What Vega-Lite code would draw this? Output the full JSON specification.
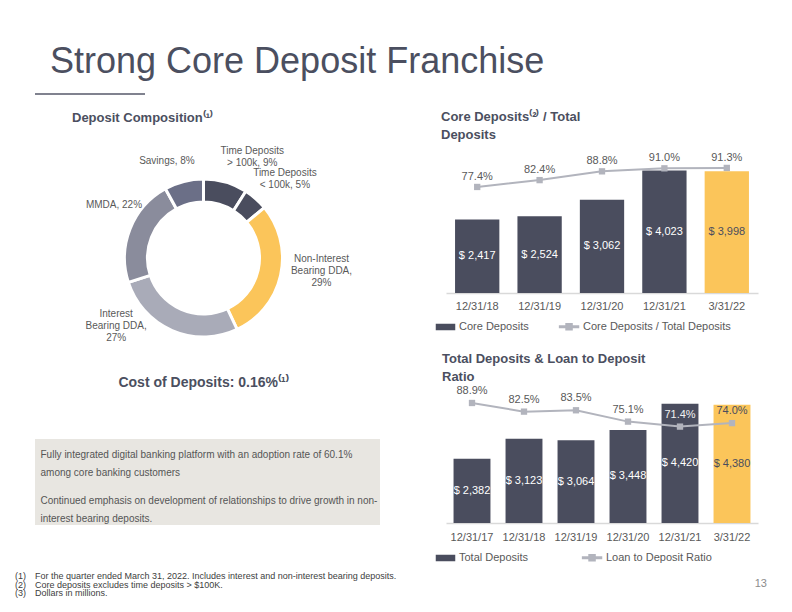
{
  "$schema": "https://vega.github.io/schema/vega-lite/v6.json",
  "background": "white",
  "padding": {"left": 15, "top": 44, "right": 0, "bottom": 0},
  "title": {"text": "Strong Core Deposit Franchise", "anchor": "start", "frame": "group", "dx": 15, "fontSize": 36, "fontWeight": "normal", "color": "#4b4f60", "offset": 12},
  "spacing": 15,
  "resolve": {"scale": {"color": "independent"}, "legend": {"color": "independent"}},
  "vconcat": [
    {
      "width": 110, "height": 2,
      "data": {"values": [{}]},
      "mark": {"type": "rect", "color": "#80828f"},
      "encoding": {}
    },
    {
      "spacing": 42,
      "resolve": {"scale": {"color": "independent"}, "legend": {"color": "independent"}},
      "hconcat": [
        {
          "spacing": 16,
          "resolve": {"scale": {"color": "independent"}, "legend": {"color": "independent"}},
          "title": {"text": ["(1)\u2003For the quarter ended March 31, 2022.  Includes interest and non-interest bearing deposits.", "(2)\u2003Core deposits excludes time deposits > $100K.", "(3)\u2003Dollars in millions."], "orient": "bottom", "anchor": "start", "frame": "bounds", "dx": -20, "fontSize": 9, "fontWeight": "normal", "color": "#404040", "lineHeight": 8.7, "offset": 47},
          "vconcat": [
            {
              "width": 337, "height": 204,
              "title": {"text": "Deposit Composition\u207d\u00b9\u207e", "anchor": "start", "dx": 37, "fontSize": 13, "fontWeight": "bold", "color": "#4b4f60", "offset": 20.5},
              "data": {"values": [
                {"k": 1, "name": "Time Deposits > 100k", "label": "Time Deposits\n> 100k, 9%", "pct": 9},
                {"k": 2, "name": "Time Deposits < 100k", "label": "Time Deposits\n< 100k, 5%", "pct": 5},
                {"k": 3, "name": "Non-Interest Bearing DDA", "label": "Non-Interest\nBearing DDA,\n29%", "pct": 29},
                {"k": 4, "name": "Interest Bearing DDA", "label": "Interest\nBearing DDA,\n27%", "pct": 27},
                {"k": 5, "name": "MMDA", "label": "MMDA, 22%", "pct": 22},
                {"k": 6, "name": "Savings", "label": "Savings, 8%", "pct": 8}
              ]},
              "layer": [
                {
                  "mark": {"type": "arc", "innerRadius": 56, "outerRadius": 79, "stroke": "white", "strokeWidth": 3},
                  "encoding": {
                    "theta": {"field": "pct", "type": "quantitative", "stack": true},
                    "order": {"field": "k", "type": "quantitative"},
                    "color": {"field": "name", "type": "nominal", "legend": null,
                      "scale": {"domain": ["Time Deposits > 100k", "Time Deposits < 100k", "Non-Interest Bearing DDA", "Interest Bearing DDA", "MMDA", "Savings"],
                                "range": ["#4a4d5e", "#4a4d5e", "#fbc55a", "#a9abb8", "#8a8c9c", "#6b6f87"]}}
                  }
                },
                {
                  "transform": [{"filter": "datum.k <= 3"}],
                  "mark": {"type": "text", "radius": 118, "fontSize": 10, "fill": "#595959", "lineHeight": 12, "lineBreak": "\n"},
                  "encoding": {
                    "theta": {"field": "pct", "type": "quantitative", "stack": true, "scale": {"domain": [0, 100], "range": [0.2094, 5.009]}},
                    "order": {"field": "k", "type": "quantitative"},
                    "text": {"field": "label", "type": "nominal"}
                  }
                },
                {
                  "transform": [{"filter": "datum.k >= 4"}],
                  "mark": {"type": "text", "radius": 104, "fontSize": 10, "fill": "#595959", "lineHeight": 12, "lineBreak": "\n"},
                  "encoding": {
                    "theta": {"field": "pct", "type": "quantitative", "stack": true, "scale": {"domain": [0, 100], "range": [6.1046, 1.586]}},
                    "order": {"field": "k", "type": "quantitative", "sort": "descending"},
                    "text": {"field": "label", "type": "nominal"}
                  }
                }
              ],
              "resolve": {"scale": {"theta": "independent"}}
            },
            {
              "width": 345, "height": 86,
              "view": {"fill": "#e8e6e1", "stroke": null},
              "title": {"text": "Cost of Deposits: 0.16%\u207d\u00b9\u207e", "anchor": "middle", "dx": -4, "fontSize": 14, "fontWeight": "bold", "color": "#4b4f60", "offset": 49},
              "data": {"values": [
                {"p": 1, "text": "Fully integrated digital banking platform with an adoption rate of 60.1%\namong core banking customers"},
                {"p": 2, "text": "Continued emphasis on development of relationships to drive growth in non-\ninterest bearing deposits."}
              ]},
              "mark": {"type": "text", "align": "left", "baseline": "middle", "dx": -167, "dy": -4, "fontSize": 10, "fill": "#555555", "lineHeight": 18, "lineBreak": "\n"},
              "encoding": {
                "y": {"field": "p", "type": "ordinal", "axis": null, "scale": {"padding": 0.445}},
                "text": {"field": "text", "type": "nominal"}
              }
            }
          ]
        },
        {
          "spacing": 19,
          "resolve": {"scale": {"color": "independent"}, "legend": {"color": "independent"}},
          "title": {"text": "13", "orient": "bottom", "anchor": "end", "frame": "bounds", "dx": 9, "fontSize": 11, "fontWeight": "normal", "color": "#8c8c8c", "offset": 14},
          "vconcat": [
            {
              "width": 312, "height": 137,
              "title": {"text": ["Core Deposits\u207d\u00b2\u207e / Total", "Deposits"], "anchor": "start", "dx": -5, "fontSize": 13, "fontWeight": "bold", "color": "#4b4f60", "lineHeight": 18, "offset": 10},
              "data": {"values": [
                {"date": "12/31/18", "core": 2417, "ratio": 0.774},
                {"date": "12/31/19", "core": 2524, "ratio": 0.824},
                {"date": "12/31/20", "core": 3062, "ratio": 0.888},
                {"date": "12/31/21", "core": 4023, "ratio": 0.910},
                {"date": "3/31/22", "core": 3998, "ratio": 0.913}
              ]},
              "encoding": {
                "x": {"field": "date", "type": "ordinal", "sort": null,
                  "scale": {"paddingInner": 0.29, "paddingOuter": 0.145},
                  "axis": {"title": null, "labelAngle": 0, "labelFontSize": 11, "labelColor": "#595959", "ticks": false, "domainColor": "#d9d9d9", "domainWidth": 1.5, "labelPadding": 7, "grid": false}}
              },
              "layer": [
                {
                  "mark": {"type": "bar"},
                  "encoding": {
                    "y": {"field": "core", "type": "quantitative", "scale": {"domain": [0, 4500]}, "axis": null},
                    "color": {
                      "condition": {"test": "datum.date === '3/31/22'", "value": "#fbc55a"},
                      "datum": "Core Deposits",
                      "scale": {"domain": ["Core Deposits", "Core Deposits / Total Deposits"], "range": ["#4a4d5e", "#b2b4bd"]},
                      "legend": {"orient": "bottom", "direction": "horizontal", "title": null, "labelFontSize": 11, "labelColor": "#595959", "symbolSize": 36, "labelOffset": 2, "columnPadding": 27, "offset": 10,
                        "encode": {"symbols": {"update": {
                          "shape": {"signal": "datum.value === 'Core Deposits' ? 'M-5,-0.85H1V0.85H-5Z' : 'M-5.3,-0.22H1V0.22H-5.3Z M-3.15,-1H-1.15V1H-3.15Z'"},
                          "fill": {"signal": "datum.value === 'Core Deposits' ? '#4a4d5e' : '#b2b4bd'"},
                          "stroke": {"value": "transparent"},
                          "opacity": {"value": 1}}}}}
                    }
                  }
                },
                {
                  "mark": {"type": "text", "fontSize": 11},
                  "encoding": {
                    "y": {"field": "core", "type": "quantitative", "scale": {"domain": [0, 9000]}, "axis": null},
                    "text": {"field": "core", "type": "quantitative", "format": "$,"},
                    "color": {"condition": {"test": "datum.date === '3/31/22'", "value": "#4a4d5e"}, "value": "#ffffff"}
                  }
                },
                {
                  "mark": {"type": "line", "strokeWidth": 2, "point": {"shape": "square", "size": 40, "filled": true}},
                  "encoding": {
                    "y": {"field": "ratio", "type": "quantitative", "scale": {"domain": [0, 1]}, "axis": null},
                    "color": {"datum": "Core Deposits / Total Deposits"}
                  }
                },
                {
                  "mark": {"type": "text", "fontSize": 11, "dy": -10, "fill": "#595959"},
                  "encoding": {
                    "y": {"field": "ratio", "type": "quantitative", "scale": {"domain": [0, 1]}, "axis": null},
                    "text": {"field": "ratio", "type": "quantitative", "format": ".1%"}
                  }
                }
              ],
              "resolve": {"scale": {"y": "independent"}}
            },
            {
              "width": 312, "height": 135,
              "title": {"text": ["Total Deposits & Loan to Deposit", "Ratio"], "anchor": "start", "dx": -4, "fontSize": 13, "fontWeight": "bold", "color": "#4b4f60", "lineHeight": 18, "offset": 1},
              "data": {"values": [
                {"date": "12/31/17", "total": 2382, "ltd": 0.889},
                {"date": "12/31/18", "total": 3123, "ltd": 0.825},
                {"date": "12/31/19", "total": 3064, "ltd": 0.835},
                {"date": "12/31/20", "total": 3448, "ltd": 0.751},
                {"date": "12/31/21", "total": 4420, "ltd": 0.714},
                {"date": "3/31/22", "total": 4380, "ltd": 0.740}
              ]},
              "encoding": {
                "x": {"field": "date", "type": "ordinal", "sort": null,
                  "scale": {"paddingInner": 0.29, "paddingOuter": 0.145},
                  "axis": {"title": null, "labelAngle": 0, "labelFontSize": 11, "labelColor": "#595959", "ticks": false, "domainColor": "#d9d9d9", "domainWidth": 1.5, "labelPadding": 8, "grid": false}}
              },
              "layer": [
                {
                  "mark": {"type": "bar"},
                  "encoding": {
                    "y": {"field": "total", "type": "quantitative", "scale": {"domain": [0, 5000]}, "axis": null},
                    "color": {
                      "condition": {"test": "datum.date === '3/31/22'", "value": "#fbc55a"},
                      "datum": "Total Deposits",
                      "scale": {"domain": ["Total Deposits", "Loan to Deposit Ratio"], "range": ["#4a4d5e", "#b2b4bd"]},
                      "legend": {"orient": "bottom", "direction": "horizontal", "title": null, "labelFontSize": 11, "labelColor": "#595959", "symbolSize": 36, "labelOffset": 2, "columnPadding": 50, "offset": 10,
                        "encode": {"symbols": {"update": {
                          "shape": {"signal": "datum.value === 'Total Deposits' ? 'M-5,-0.85H1V0.85H-5Z' : 'M-5.3,-0.22H1V0.22H-5.3Z M-3.15,-1H-1.15V1H-3.15Z'"},
                          "fill": {"signal": "datum.value === 'Total Deposits' ? '#4a4d5e' : '#b2b4bd'"},
                          "stroke": {"value": "transparent"},
                          "opacity": {"value": 1}}}}}
                    }
                  }
                },
                {
                  "mark": {"type": "text", "fontSize": 11},
                  "encoding": {
                    "y": {"field": "total", "type": "quantitative", "scale": {"domain": [0, 10000]}, "axis": null},
                    "text": {"field": "total", "type": "quantitative", "format": "$,"},
                    "color": {"condition": {"test": "datum.date === '3/31/22'", "value": "#4a4d5e"}, "value": "#ffffff"}
                  }
                },
                {
                  "mark": {"type": "line", "strokeWidth": 2, "point": {"shape": "square", "size": 40, "filled": true}},
                  "encoding": {
                    "y": {"field": "ltd", "type": "quantitative", "scale": {"domain": [0, 1]}, "axis": null},
                    "color": {"datum": "Loan to Deposit Ratio"}
                  }
                },
                {
                  "mark": {"type": "text", "fontSize": 11, "dy": -12},
                  "encoding": {
                    "y": {"field": "ltd", "type": "quantitative", "scale": {"domain": [0, 1]}, "axis": null},
                    "text": {"field": "ltd", "type": "quantitative", "format": ".1%"},
                    "color": {"condition": [{"test": "datum.date === '12/31/21'", "value": "#f2f2f2"}, {"test": "datum.date === '3/31/22'", "value": "#4a4d5e"}], "value": "#595959"}
                  }
                }
              ],
              "resolve": {"scale": {"y": "independent"}}
            }
          ]
        }
      ]
    }
  ],
  "config": {
    "font": "Liberation Sans",
    "view": {"stroke": null},
    "locale": {"number": {"decimal": ".", "thousands": ",", "grouping": [3], "currency": ["$ ", ""]}}
  }
}
